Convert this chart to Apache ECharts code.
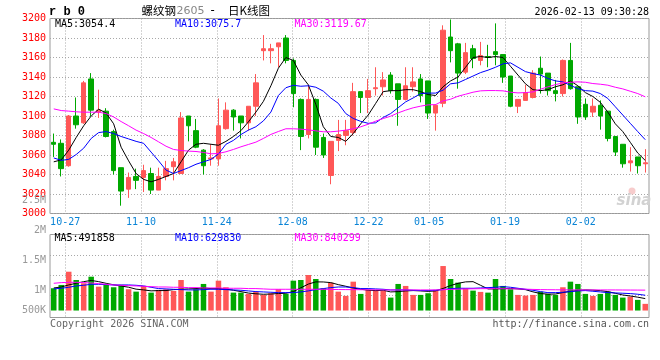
<!DOCTYPE html>
<html><head><meta charset="utf-8">
<script src="https://cdn.jsdelivr.net/npm/echarts@6/dist/echarts.min.js"></script>
<style>html,body{margin:0;padding:0;background:#fff}#c{width:660px;height:360px}</style>
</head><body><div id="c"></div>
<script>
const dates = ['10-23','10-24','10-27','10-28','10-29','10-30','10-31',
'11-03','11-04','11-05','11-06','11-07','11-10','11-11','11-12','11-13','11-14','11-17','11-18','11-19','11-20','11-21','11-24','11-25','11-26','11-27','11-28',
'12-01','12-02','12-03','12-04','12-05','12-08','12-09','12-10','12-11','12-12','12-15','12-16','12-17','12-18','12-19','12-22','12-23','12-24','12-25','12-26','12-29','12-30','12-31',
'01-05','01-06','01-07','01-08','01-09','01-12','01-13','01-14','01-15','01-16','01-19','01-20','01-21','01-22','01-23','01-26','01-27','01-28','01-29','01-30',
'02-02','02-03','02-04','02-05','02-06','02-09','02-10','02-11','02-12','02-13'];
const xLabels = ['10-27','11-10','11-24','12-08','12-22','01-05','01-19','02-02'];

const opens = [3073,3072,3049,3100,3093,3138,3104,3105,3084,3047, 3025,3038,3037,3041,3024,3038,3048,3041,3100,3085, 3065,3056,3056,3087,3106,3100,3093,3110,3167,3167, 3171,3180,3157,3117,3081,3117,3078,3039,3075,3080, 3083,3125,3119,3128,3130,3142,3133,3117,3130,3138, 3136,3103,3113,3181,3174,3145,3169,3157,3161,3166, 3163,3141,3110,3116,3119,3149,3144,3126,3123,3157, 3130,3112,3104,3111,3105,3079,3071,3052,3058,3051];
const closes = [3071,3046,3100,3091,3134,3106,3106,3079,3044,3023, 3037,3034,3044,3024,3038,3046,3053,3098,3090,3068, 3049,3057,3090,3106,3099,3093,3110,3134,3169,3169, 3175,3157,3123,3079,3117,3068,3060,3074,3081,3085, 3125,3119,3126,3129,3137,3126,3117,3131,3135,3121, 3103,3111,3188,3167,3144,3165,3159,3162,3160,3163, 3140,3110,3117,3124,3144,3143,3126,3123,3157,3128, 3099,3099,3110,3100,3077,3063,3051,3054,3049,3052];
const lows = [3058,3038,3048,3087,3092,3100,3098,3078,3040,3008, 3016,3025,3022,3020,3024,3034,3034,3041,3074,3067, 3040,3049,3049,3086,3085,3077,3085,3100,3157,3154, 3150,3154,3109,3065,3077,3060,3057,3030,3064,3070, 3080,3103,3103,3121,3121,3123,3090,3116,3125,3114, 3097,3085,3109,3155,3128,3143,3149,3152,3150,3152, 3134,3109,3103,3116,3118,3123,3121,3115,3120,3127, 3092,3096,3099,3086,3074,3059,3047,3043,3041,3042];
const highs = [3082,3076,3101,3119,3136,3144,3127,3108,3086,3047, 3042,3046,3050,3047,3047,3054,3057,3104,3100,3097, 3066,3071,3118,3114,3107,3100,3110,3143,3183,3174, 3175,3183,3159,3118,3132,3118,3082,3074,3096,3096, 3134,3125,3138,3150,3145,3145,3133,3150,3150,3143, 3136,3112,3193,3199,3175,3175,3173,3176,3173,3195, 3163,3141,3117,3132,3147,3161,3144,3137,3158,3175, 3130,3118,3118,3116,3105,3079,3071,3068,3058,3066];

const ma5 = [3053,3055,3065,3078,3090,3100,3107,3103,3092,3068, 3054,3041,3035,3032.5,3035,3038,3041,3053,3065,3071, 3072,3071,3070,3074,3079,3085,3094,3104,3115,3131, 3149,3160,3157,3142,3132,3112,3089,3079,3078,3074, 3082,3092,3101,3113,3125,3126,3126,3127,3127,3125, 3122,3121,3130,3136,3140,3150,3160,3161,3160,3161, 3160,3151,3142,3133,3127,3126,3127,3130,3132,3136, 3131,3124,3120,3114,3104,3092,3084,3073,3062,3054.4];
const ma10 = [3057,3054.5,3055.5,3060.5,3067,3077,3083,3084,3082,3079, 3076.5,3074,3072,3063,3054,3044.5,3041,3044,3047,3050.5, 3053,3055.5,3061,3071,3075,3081,3085.5,3089,3095,3104, 3121,3129,3131.5,3130.5,3131,3129.5,3125.5,3118.5,3113,3102.5, 3097.5,3094.5,3092.5,3093,3098.5,3102.5,3108.5,3114.5,3118.5,3123, 3123.5,3123.5,3126.5,3133,3134,3137.5,3141,3144.5,3147,3150, 3153.5,3154.5,3150,3145.5,3143.5,3142,3138.5,3136,3135,3131.5, 3128,3126,3125.5,3123,3118,3109.5,3101,3092.5,3084,3075.7];
const ma30 = [3107.3,3105.6,3105,3104.3,3103.9,3103.9,3103.9,3102.5,3099,3094.3, 3090,3085.5,3082,3078,3073.5,3069,3065.7,3064.6,3064,3063.6, 3062.6,3061.2,3061.6,3063.3,3065.7,3068.4,3070.8,3073.2,3077,3081.1, 3084.1,3086.9,3086.9,3086.5,3085.8,3084.8,3083.8,3083.8,3084.5,3085.5, 3086.9,3088.9,3091.6,3094.7,3097.4,3099.8,3103.2,3106,3108.4,3110.1, 3111.4,3111.7,3115.5,3117.2,3120.3,3122.3,3124.4,3125.8,3126.1,3126.1, 3125.8,3124.4,3123.7,3124,3124.7,3127.5,3129.9,3132.2,3134,3134.6, 3135,3134.6,3133.3,3132.6,3131.6,3129.5,3127.8,3125.4,3123,3119.67];

const volumes = [918000,1054000,1599000,1259000,1123000,1394000,984000,1054000,959000,1054000, 877000,779000,1013000,738000,849000,877000,808000,1259000,779000,877000, 1095000,779000,1230000,959000,738000,738000,685000,779000,644000,713000, 877000,685000,1230000,1259000,1464000,1300000,918000,1148000,779000,603000, 1189000,685000,849000,849000,820000,533000,1095000,1013000,644000,644000, 713000,849000,1833000,1300000,1148000,918000,820000,767000,738000,1300000, 1013000,877000,644000,615000,644000,779000,685000,644000,959000,1189000, 1095000,685000,603000,685000,779000,644000,533000,574000,439000,275000];
const vma5 = [930000,970000,1054000,1122000,1190000,1240000,1190000,1120000,1060000,1010000, 960000,880000,850000,810000,822000,822000,862000,876000,890000,904000, 930000,904000,904000,880000,835000,780000,720000,690000,670000,680000, 700000,710000,780000,935000,1090000,1180000,1177000,1150000,1067000,1000000, 930000,876000,840000,820000,835000,766000,780000,808000,822000,808000, 790000,808000,910000,1030000,1120000,1180000,1190000,1040000,890000,890000, 900000,910000,890000,860000,770000,700000,675000,680000,740000,790000, 830000,850000,840000,820000,780000,710000,640000,600000,550000,491858];
const vma10 = [890000,917000,958000,1013000,1040000,1081000,1081000,1067000,1054000,1054000, 1054000,1040000,1013000,958000,904000,890000,876000,862000,849000,849000, 862000,876000,876000,862000,849000,835000,808000,780000,766000,753000, 738000,738000,738000,766000,808000,862000,904000,944000,970000,970000, 944000,904000,904000,890000,876000,849000,849000,849000,835000,822000, 822000,835000,862000,904000,917000,917000,917000,930000,944000,958000, 984000,958000,917000,876000,835000,780000,738000,738000,753000,780000, 808000,822000,794000,766000,738000,725000,712000,698000,671000,629830];
const vma30 = [1122000,1150000,1163000,1163000,1150000,1136000,1108000,1081000,1054000,1040000, 1027000,1013000,1000000,984000,970000,970000,958000,958000,944000,944000, 930000,930000,930000,917000,917000,917000,904000,904000,890000,876000, 876000,876000,876000,876000,876000,876000,876000,870000,865000,862000, 860000,858000,855000,852000,850000,849000,849000,849000,849000,849000, 849000,849000,860000,870000,880000,890000,895000,900000,900000,900000, 898000,895000,890000,880000,870000,862000,858000,855000,852000,850000, 849000,849000,849000,849000,849000,848000,846000,844000,842000,840299];

const volTickLabels = ['2.5M','2M','1.5M','1M','500K'];
const titleName = '螺纹钢';
const titleCode = '2605';
const titleTail = '日K线图';
const symbolText = 'r b 0';
const timeText = '2026-02-13 09:30:28';

const MONO = '"DejaVu Sans Mono", monospace';
const RED = '#ff5757', GREEN = '#00a800';
const dotted = {show:true, lineStyle:{color:'#a8a8a8', type:[1,2], width:1}};
const last = a => a[a.length-1];

const chart = echarts.init(document.getElementById('c'), null, {renderer:'canvas'});

function txt(x, y, text, fill, font, align) {
  return {type:'text', x:x, y:y, z:100, silent:true,
    style:{text:text, fill:fill, font:font, align:align||'left', verticalAlign:'middle',
           textAlign:align||'left', textVerticalAlign:'middle'}};
}
const F10 = '10px ' + MONO;
const volLabelY = [200.5, 230.7, 260.7, 290.7, 310];

const graphics = [
  txt(49, 12, symbolText, '#000', 'bold 12px "Liberation Mono", monospace'),
  txt(141.5, 11, titleName, '#000', '11.5px "Noto Sans CJK SC"'),
  txt(176.5, 11.5, titleCode, '#888', '11px "DejaVu Sans"'),
  txt(209, 11, '-', '#000', '12px ' + MONO),
  txt(228, 11, titleTail, '#000', '11.5px "Noto Sans CJK SC"'),
  txt(649, 12, timeText, '#000', F10, 'right'),
  txt(55, 24.5, 'MA5:' + last(ma5), '#000', F10),
  txt(175, 24.5, 'MA10:' + last(ma10), '#0000ff', F10),
  txt(294.5, 24.5, 'MA30:' + last(ma30), '#ff00ff', F10),
  txt(54.5, 238.5, 'MA5:' + last(vma5), '#000', F10),
  txt(175, 238.5, 'MA10:' + last(vma10), '#0000ff', F10),
  txt(294.5, 238.5, 'MA30:' + last(vma30), '#ff00ff', F10),
  txt(50, 324, 'Copyright 2026 SINA.COM', '#666', F10),
  txt(649, 324, 'http://finance.sina.com.cn', '#555', F10, 'right'),
  {type:'circle', z:1, silent:true, shape:{cx:632, cy:191, r:3.5}, style:{fill:'#f7cccc'}},
  txt(634, 201, 'sina', '#d2d2d2', 'italic bold 15px "DejaVu Sans"', 'center')
];
volTickLabels.forEach((t, k) => graphics.push(txt(46, volLabelY[k], t, '#999', F10, 'right')));

const hidX = {axisLine:{show:false}, axisTick:{show:false}, axisLabel:{show:false}, splitLine:{show:false}};
const pickLabel = (i, v) => xLabels.indexOf(v) >= 0;

const option = {
  animation:false,
  backgroundColor:'#fff',
  grid:[
    {left:50, top:18.5, width:599, height:195, show:true, borderColor:'#999', borderWidth:1},
    {left:50, top:234.5, width:599, height:83, show:true, borderColor:'#999', borderWidth:1},
    {left:50, top:234.5, width:599, height:81.4, show:false}
  ],
  xAxis:[
    Object.assign({type:'category', gridIndex:0, data:dates, boundaryGap:true}, hidX),
    {type:'category', gridIndex:0, data:dates, boundaryGap:false, position:'bottom',
     axisLine:{show:false}, axisTick:{show:false},
     axisLabel:{show:true, interval:pickLabel, color:'#0a84d6', fontFamily:MONO, fontSize:10, margin:4},
     splitLine:Object.assign({interval:pickLabel}, dotted)},
    Object.assign({type:'category', gridIndex:1, data:dates, boundaryGap:true}, hidX),
    {type:'category', gridIndex:1, data:dates, boundaryGap:false,
     axisLine:{show:false}, axisTick:{show:false}, axisLabel:{show:false},
     splitLine:Object.assign({interval:pickLabel}, dotted)},
    Object.assign({type:'category', gridIndex:2, data:dates, boundaryGap:true}, hidX)
  ],
  yAxis:[
    {type:'value', gridIndex:0, min:3000, max:3200, interval:20,
     axisLine:{show:false}, axisTick:{show:false},
     axisLabel:{color:'#ff0000', fontFamily:MONO, fontSize:10, margin:4, formatter:v => String(v)},
     splitLine:dotted},
    {type:'value', gridIndex:1, min:-287000, max:3132000, show:false, splitLine:{show:false}},
    {type:'value', gridIndex:2, min:0, max:4, interval:1,
     axisLine:{show:false}, axisTick:{show:false}, axisLabel:{show:false},
     splitLine:Object.assign({showMinLine:false}, dotted)}
  ],
  graphic:graphics,
  series:[
    {type:'candlestick', xAxisIndex:0, yAxisIndex:0, barWidth:5, z:2,
     data:dates.map((d,i)=>[opens[i], closes[i], lows[i], highs[i]]),
     itemStyle:{color:RED, color0:GREEN, borderColor:RED, borderColor0:GREEN, borderWidth:1}},
    {type:'line', xAxisIndex:0, yAxisIndex:0, data:ma5, showSymbol:false, z:3, lineStyle:{color:'#000', width:1}},
    {type:'line', xAxisIndex:0, yAxisIndex:0, data:ma10, showSymbol:false, z:3, lineStyle:{color:'#0000ff', width:1}},
    {type:'line', xAxisIndex:0, yAxisIndex:0, data:ma30, showSymbol:false, z:3, lineStyle:{color:'#ff00ff', width:1}},
    {type:'bar', xAxisIndex:2, yAxisIndex:1, barWidth:5.5, z:2,
     data:volumes.map((v,i)=>({value:v, itemStyle:{color: closes[i] >= opens[i] ? RED : GREEN}}))},
    {type:'line', xAxisIndex:2, yAxisIndex:1, data:vma5, showSymbol:false, z:3, lineStyle:{color:'#000', width:1}},
    {type:'line', xAxisIndex:2, yAxisIndex:1, data:vma10, showSymbol:false, z:3, lineStyle:{color:'#0000ff', width:1}},
    {type:'line', xAxisIndex:2, yAxisIndex:1, data:vma30, showSymbol:false, z:3, lineStyle:{color:'#ff00ff', width:1}}
  ]
};
chart.setOption(option);
</script></body></html>
